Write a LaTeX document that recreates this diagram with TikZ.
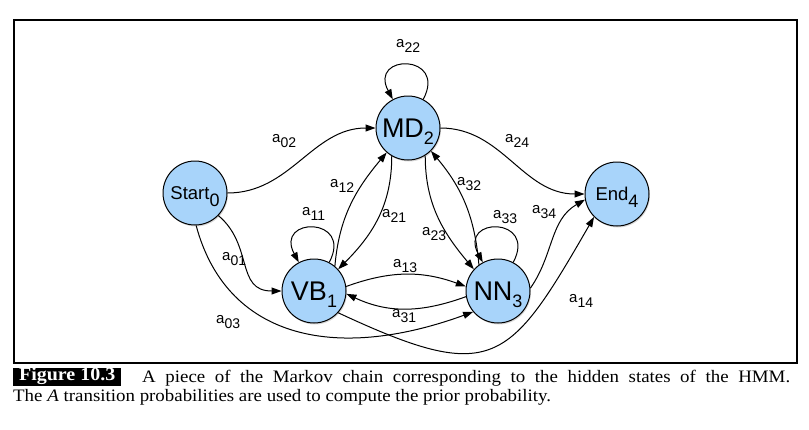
\documentclass[tikz,border=0pt]{standalone}
\usepackage{fontspec}
\setsansfont{Liberation Sans}
\newfontfamily\capfont[FakeStretch=1.08]{Liberation Serif}
\usetikzlibrary{arrows.meta,shadows}

\definecolor{stateblue}{RGB}{168,212,250}

% lowered subscripts, as in the drawing program
\newcommand{\nsub}[1]{\raisebox{-7pt}[0pt][0pt]{\fontsize{18}{18}\selectfont #1}}
\newcommand{\esub}[1]{\raisebox{-5pt}[0pt][0pt]{\fontsize{14}{14}\selectfont #1}}

\tikzset{
    state/.style={circle, draw, line width=1pt, fill=stateblue, minimum size=64pt, inner sep=0pt,
        drop shadow={shadow xshift=1pt, shadow yshift=-1.5pt, opacity=0.3}},
    bigstate/.style={state, font=\sffamily\fontsize{27}{27}\selectfont},
    smallstate/.style={state, font=\sffamily\fontsize{18.5}{18.5}\selectfont},
    prob/.style={anchor=base west, inner sep=0pt, font=\sffamily\fontsize{15}{15}\selectfont},
    trans/.style={line width=1pt, -{Triangle[length=10pt,width=7pt]}},
    captext/.style={anchor=base west, inner sep=0pt, font=\capfont\fontsize{17.5}{20}\selectfont}
}

\begin{document}
\begin{tikzpicture}[x=1pt, y=1pt]
    \useasboundingbox (0, 0) rectangle (809, -429);
    \draw[line width=1.3pt] (14, -20) rectangle (797, -363);

    % States
    \node[smallstate] (start) at (195, -193) {Start\nsub{0}};
    \node[bigstate] (md) at (408, -128) {MD\nsub{2}};
    \node[bigstate] (vb) at (314, -291) {VB\nsub{1}};
    \node[bigstate] (nn) at (498, -291) {NN\nsub{3}};
    \node[smallstate] (end) at (617, -194) {End\nsub{4}};

    % Self loops
    \draw[trans] (md.62) .. controls +(62:52) and +(118:52) .. (md.118);
    \draw[trans] (vb.62) .. controls +(62:52) and +(118:52) .. (vb.118);
    \draw[trans] (nn.62) .. controls +(62:52) and +(118:52) .. (nn.118);

    % Transitions out of Start
    \draw[trans] (start.east) to[out=0, in=180] (md.west);
    \draw[trans] (start.316) to[out=-40, in=180, looseness=1.2] (vb.west);
    \draw[trans] (start.272) to[out=285, in=200, out distance=115pt, in distance=150pt] (nn.220);

    % Between MD, VB and NN
    \draw[trans] (vb.50) to[out=85, in=230] (md.229);
    \draw[trans] (md.240) to[out=270, in=45] (vb.42);
    \draw[trans] (nn.126) to[out=95, in=310] (md.315);
    \draw[trans] (md.302) to[out=270, in=130] (nn.138);
    \draw[trans] (vb.8) to[out=20, in=160] (nn.172);
    \draw[trans] (nn.190) to[out=200, in=335] (vb.355);

    % Into End
    \draw[trans] (md.east) to[out=0, in=180] (end.west);
    \draw[trans] (nn.5) to[out=55, in=210] (end.190);
    \draw[trans] (vb.318) to[out=-25, in=240, looseness=1.6] (end.225);

    % Transition labels
    \node[prob] (l22) at (396, -47) {a\esub{22}};
    \node[prob] (l02) at (272, -142) {a\esub{02}};
    \node[prob] (l24) at (505, -142) {a\esub{24}};
    \node[prob] (l12) at (330, -187) {a\esub{12}};
    \node[prob] (l32) at (457, -185) {a\esub{32}};
    \node[prob] (l11) at (302, -215) {a\esub{11}};
    \node[prob] (l21) at (382, -217) {a\esub{21}};
    \node[prob] (l23) at (422, -235) {a\esub{23}};
    \node[prob] (l33) at (493, -218) {a\esub{33}};
    \node[prob] (l34) at (532, -213) {a\esub{34}};
    \node[prob] (l01) at (222, -260) {a\esub{01}};
    \node[prob] (l13) at (393, -267) {a\esub{13}};
    \node[prob] (l31) at (392, -317) {a\esub{31}};
    \node[prob] (l03) at (216, -323) {a\esub{03}};
    \node[prob] (l14) at (569, -302) {a\esub{14}};

    % Caption
    \node[fill=black, text=white, anchor=west, minimum width=108pt, minimum height=18pt, inner sep=0pt,
        font=\capfont\bfseries\fontsize{18.5}{20}\selectfont] (fig) at (13, -376.5) {Figure 10.3};
    \node[captext] (cap1) at (142, -382.5)
        {\makebox[648pt][s]{A piece of the Markov chain corresponding to the hidden states of the HMM.}};
    \node[captext] (cap2) at (13, -401.5)
        {The \textit{A} transition probabilities are used to compute the prior probability.};
\end{tikzpicture}
\end{document}
